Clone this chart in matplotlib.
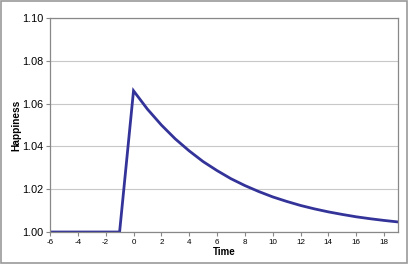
import matplotlib
matplotlib.use("Agg")
import matplotlib.pyplot as plt
from matplotlib.patches import Rectangle

time = [-6, -5, -4, -3, -2, -1, 0, 1, 2, 3, 4, 5, 6, 7, 8, 9, 10, 11, 12, 13, 14, 15, 16, 17, 18, 19]
happiness = [1.0, 1.0, 1.0, 1.0, 1.0, 1.0, 1.0660, 1.0574, 1.0500, 1.0435, 1.0379, 1.0329,
             1.0287, 1.0249, 1.0217, 1.0189, 1.0164, 1.0143, 1.0124, 1.0108, 1.0094,
             1.0082, 1.0071, 1.0062, 1.0054, 1.0047]
xticks = [-6, -4, -2, 0, 2, 4, 6, 8, 10, 12, 14, 16, 18]
yticks = [1.00, 1.02, 1.04, 1.06, 1.08, 1.10]

plt.rcParams['font.family'] = ['Liberation Sans', 'DejaVu Sans']
fig = plt.figure(figsize=(4.09, 2.64), dpi=100)
ax = fig.add_axes([50/409, 1-232/264, 348/409, 214/264])
ax.plot(time, happiness, color='#333399', lw=2.0, solid_joinstyle='miter')
ax.set_xlim(-6, 19)
ax.set_ylim(1.0, 1.10)
ax.set_xticks(xticks)
ax.set_xticklabels([str(t) for t in xticks], fontsize=5.8)
ax.set_yticks(yticks)
ax.set_yticklabels([f"{v:.2f}" for v in yticks], fontsize=7.8)
ax.grid(axis='y', color='#c8c8c8', lw=0.8)
ax.set_axisbelow(True)
for s in ax.spines.values():
    s.set_color('#888888')
    s.set_linewidth(0.9)
ax.tick_params(axis='both', color='#888888', length=3, width=0.8, direction='out', pad=2)
ax.set_xlabel('Time', fontsize=7, fontweight='bold', labelpad=1)
ax.set_ylabel('Happiness', fontsize=7.3, fontweight='bold', labelpad=0)
fig.patches.append(Rectangle((1/409, 1/264), 406/409, 262/264, transform=fig.transFigure,
                             fill=False, edgecolor='#999999', lw=1.2))
fig.savefig('out.png', dpi=100)
